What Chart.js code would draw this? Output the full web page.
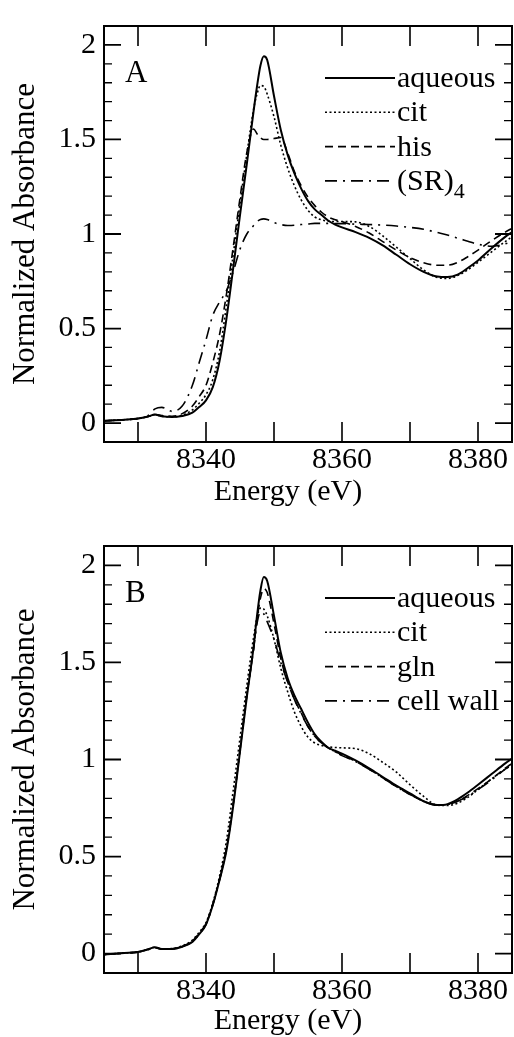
<!DOCTYPE html>
<html>
<head>
<meta charset="utf-8">
<script src="https://cdn.jsdelivr.net/npm/chart.js@4.4.1/dist/chart.umd.min.js"></script>
<style>
  html, body { margin: 0; padding: 0; background: #fff; overflow: hidden; }
  .panel { position: absolute; left: 0; width: 514px; }
  #wrapA { top: 0; height: 520px; }
  #wrapB { top: 520px; height: 517px; }
</style>
</head>
<body>
<div class="panel" id="wrapA"><canvas id="chartA"></canvas></div>
<div class="panel" id="wrapB"><canvas id="chartB"></canvas></div>
<script>
// energy grid (eV) shared by all curves
const energy = [8325, 8328, 8330, 8331.5, 8332.5, 8333.5, 8335, 8336.5, 8338, 8339,
    8340, 8341, 8342, 8343, 8344, 8345, 8346, 8347, 8347.5, 8348,
    8348.5, 8349, 8350, 8351, 8352, 8353, 8354, 8355, 8356, 8357,
    8358, 8359, 8360, 8362, 8364, 8366, 8368, 8370, 8372, 8374,
    8375.5, 8377, 8378.5, 8380, 8382, 8384, 8385];

// tick positions and labels
const xTicks = [8330, 8340, 8350, 8360, 8370, 8380];
const xTickLabels = ['', '8340', '', '8360', '', '8380'];
const yTicks = [0, 0.1, 0.2, 0.3, 0.4, 0.5, 0.6, 0.7, 0.8, 0.9, 1,
    1.1, 1.2, 1.3, 1.4, 1.5, 1.6, 1.7, 1.8, 1.9, 2];
const yMajor = [0, 0.5, 1, 1.5, 2];
const yTickLabels = ['0', '0.5', '1', '1.5', '2'];

// panel A
const namesA = ['aqueous', 'cit', 'his', '(SR)4'];
const aqueousA = [0.012, 0.018, 0.024, 0.035, 0.045, 0.036, 0.032, 0.038, 0.055, 0.085,
    0.12, 0.19, 0.33, 0.55, 0.82, 1.10, 1.37, 1.65, 1.78, 1.89,
    1.94, 1.92, 1.73, 1.55, 1.42, 1.32, 1.24, 1.175, 1.13, 1.10,
    1.07, 1.05, 1.035, 1.01, 0.98, 0.94, 0.89, 0.84, 0.80, 0.775,
    0.772, 0.785, 0.82, 0.86, 0.925, 0.985, 1.01];
const citA = [0.012, 0.018, 0.024, 0.035, 0.045, 0.036, 0.033, 0.042, 0.07, 0.105,
    0.15, 0.23, 0.38, 0.62, 0.89, 1.16, 1.42, 1.66, 1.74, 1.785,
    1.78, 1.74, 1.62, 1.47, 1.35, 1.255, 1.18, 1.125, 1.09, 1.075,
    1.068, 1.066, 1.066, 1.064, 1.04, 0.99, 0.93, 0.87, 0.81, 0.77,
    0.765, 0.78, 0.81, 0.85, 0.905, 0.96, 0.985];
const hisA = [0.012, 0.018, 0.024, 0.035, 0.045, 0.04, 0.036, 0.05, 0.09, 0.14,
    0.20, 0.32, 0.47, 0.68, 0.93, 1.19, 1.43, 1.555, 1.53, 1.51,
    1.50, 1.50, 1.505, 1.51, 1.43, 1.33, 1.255, 1.195, 1.15, 1.115,
    1.09, 1.075, 1.065, 1.04, 1.005, 0.96, 0.915, 0.875, 0.848, 0.835,
    0.835, 0.85, 0.88, 0.915, 0.965, 1.01, 1.03];
const sr4A = [0.012, 0.018, 0.024, 0.04, 0.075, 0.083, 0.062, 0.09, 0.2, 0.32,
    0.44, 0.57, 0.64, 0.70, 0.80, 0.92, 1.00, 1.045, 1.065, 1.077,
    1.08, 1.077, 1.06, 1.05, 1.045, 1.046, 1.05, 1.053, 1.056, 1.056,
    1.056, 1.055, 1.055, 1.052, 1.05, 1.047, 1.042, 1.035, 1.025, 1.008,
    0.995, 0.978, 0.962, 0.946, 0.935, 0.948, 0.96];

// panel B
const namesB = ['aqueous', 'cit', 'gln', 'cell wall'];
const aqueousB = [-0.005, 0.003, 0.008, 0.022, 0.033, 0.024, 0.024, 0.035, 0.06, 0.1,
    0.15, 0.25, 0.38, 0.53, 0.76, 1.04, 1.32, 1.58, 1.74, 1.87,
    1.94, 1.92, 1.74, 1.55, 1.42, 1.33, 1.26, 1.19, 1.13, 1.09,
    1.06, 1.045, 1.03, 0.995, 0.955, 0.91, 0.865, 0.825, 0.785, 0.765,
    0.77, 0.795, 0.83, 0.87, 0.925, 0.98, 1.005];
const citB = [-0.005, 0.003, 0.008, 0.022, 0.033, 0.025, 0.026, 0.04, 0.07, 0.11,
    0.16, 0.26, 0.40, 0.58, 0.84, 1.11, 1.38, 1.63, 1.73, 1.78,
    1.775, 1.74, 1.62, 1.47, 1.35, 1.245, 1.17, 1.115, 1.085, 1.072,
    1.065, 1.062, 1.06, 1.056, 1.03, 0.985, 0.935, 0.87, 0.81, 0.765,
    0.763, 0.775, 0.805, 0.845, 0.9, 0.95, 0.97];
const glnB = [-0.005, 0.003, 0.008, 0.022, 0.03, 0.022, 0.024, 0.037, 0.065, 0.105,
    0.155, 0.255, 0.385, 0.54, 0.77, 1.05, 1.33, 1.57, 1.72, 1.83,
    1.88, 1.86, 1.70, 1.52, 1.40, 1.31, 1.24, 1.17, 1.12, 1.085,
    1.06, 1.04, 1.025, 0.99, 0.95, 0.905, 0.86, 0.82, 0.785, 0.765,
    0.768, 0.785, 0.815, 0.85, 0.9, 0.955, 0.98];
const cellWallB = [-0.005, 0.003, 0.009, 0.02, 0.03, 0.024, 0.025, 0.036, 0.062, 0.1,
    0.15, 0.25, 0.38, 0.54, 0.77, 1.05, 1.33, 1.57, 1.70, 1.76,
    1.75, 1.71, 1.62, 1.50, 1.40, 1.31, 1.235, 1.17, 1.12, 1.085,
    1.06, 1.04, 1.02, 0.99, 0.95, 0.905, 0.86, 0.82, 0.785, 0.765,
    0.768, 0.785, 0.81, 0.845, 0.895, 0.95, 0.975];

const FONT = "'Liberation Serif', 'Times New Roman', serif";
Chart.defaults.font.family = FONT;
Chart.defaults.color = '#000';

// line styles: solid, dotted, dashed, dash-dot
const styles = [
    { borderWidth: 2, borderDash: [] },
    { borderWidth: 1.6, borderDash: [2, 2.5] },
    { borderWidth: 1.6, borderDash: [8, 5] },
    { borderWidth: 1.6, borderDash: [12, 6, 2, 6] }
];

function isMajorY(v) {
    return yMajor.some(m => Math.abs(m - v) < 1e-6);
}

// frame, inward ticks, legend, panel letter and x title
const framePlugin = {
    id: 'frame',
    afterDraw(chart, args, opts) {
        const { ctx, chartArea: a, scales: { x, y } } = chart;
        ctx.save();
        ctx.strokeStyle = '#000';
        ctx.fillStyle = '#000';
        ctx.setLineDash([]);

        // x ticks, top and bottom
        ctx.lineWidth = 1.6;
        x.ticks.forEach(t => {
            const px = x.getPixelForValue(t.value);
            ctx.beginPath();
            ctx.moveTo(px, a.bottom);
            ctx.lineTo(px, a.bottom - 20);
            ctx.moveTo(px, a.top);
            ctx.lineTo(px, a.top + 20);
            ctx.stroke();
        });

        // y ticks, left and right, longer at every 0.5
        y.ticks.forEach(t => {
            const py = y.getPixelForValue(t.value);
            const major = isMajorY(t.value);
            const len = major ? 17 : 8;
            ctx.lineWidth = major ? 1.8 : 1.3;
            ctx.beginPath();
            ctx.moveTo(a.left, py);
            ctx.lineTo(a.left + len, py);
            ctx.moveTo(a.right, py);
            ctx.lineTo(a.right - len, py);
            ctx.stroke();
        });

        ctx.lineWidth = 2;
        ctx.strokeRect(a.left, a.top, a.right - a.left, a.bottom - a.top);

        // panel letter
        ctx.font = '31px ' + FONT;
        ctx.textAlign = 'left';
        ctx.textBaseline = 'alphabetic';
        ctx.fillText(opts.letter, 125, a.top + 56);

        // legend
        chart.data.datasets.forEach((ds, i) => {
            const ly = a.top + 52 + i * 34.3;
            ctx.lineWidth = ds.borderWidth;
            ctx.setLineDash(ds.borderDash);
            ctx.beginPath();
            ctx.moveTo(325, ly);
            ctx.lineTo(395, ly);
            ctx.stroke();
            ctx.setLineDash([]);
            ctx.font = '30px ' + FONT;
            const m = ds.label.match(/^(\(.*\))(\d)$/);
            if (m) {
                ctx.fillText(m[1], 397, ly + 9);
                const w = ctx.measureText(m[1]).width;
                ctx.font = '22px ' + FONT;
                ctx.fillText(m[2], 397 + w, ly + 17);
            } else {
                ctx.fillText(ds.label, 397, ly + 9);
            }
        });

        // x axis title
        ctx.font = '30px ' + FONT;
        ctx.textAlign = 'center';
        ctx.fillText(opts.xTitle, 288, opts.xTitleY);
        ctx.restore();
    }
};

function makeChart(id, letter, names, series, padTop, xHeight, xTitleY) {
    const datasets = series.map((vals, i) => ({
        label: names[i],
        data: vals.map((v, j) => ({ x: energy[j], y: v })),
        borderColor: '#000',
        borderWidth: styles[i].borderWidth,
        borderDash: styles[i].borderDash,
        pointRadius: 0,
        fill: false,
        cubicInterpolationMode: 'monotone'
    }));

    return new Chart(document.getElementById(id), {
        type: 'line',
        data: { datasets },
        options: {
            responsive: true,
            maintainAspectRatio: false,
            animation: false,
            layout: { padding: { top: padTop, right: 2, left: 0, bottom: 0 } },
            plugins: {
                legend: { display: false },
                tooltip: { enabled: false },
                frame: { letter: letter, xTitle: 'Energy (eV)', xTitleY: xTitleY }
            },
            scales: {
                x: {
                    type: 'linear',
                    min: 8325,
                    max: 8385,
                    grid: { display: false, drawTicks: false },
                    border: { display: false },
                    afterBuildTicks: s => { s.ticks = xTicks.map(v => ({ value: v })); },
                    afterFit: s => { s.height = xHeight; },
                    ticks: {
                        autoSkip: false,
                        maxRotation: 0,
                        padding: 0,
                        font: { size: 30 },
                        callback: (v, i) => xTickLabels[i]
                    }
                },
                y: {
                    min: -0.1,
                    max: 2.1,
                    grid: { display: false, drawTicks: false },
                    border: { display: false },
                    afterBuildTicks: s => { s.ticks = yTicks.map(v => ({ value: v })); },
                    afterFit: s => { s.width = 104; },
                    title: {
                        display: true,
                        text: 'Normalized Absorbance',
                        font: { size: 31 },
                        padding: { top: 7, bottom: 0 }
                    },
                    ticks: {
                        autoSkip: false,
                        padding: 8,
                        font: { size: 30 },
                        callback: v => {
                            const k = yMajor.findIndex(m => Math.abs(m - v) < 1e-6);
                            return k < 0 ? '' : yTickLabels[k];
                        }
                    }
                }
            }
        },
        plugins: [framePlugin]
    });
}

const chartA = makeChart('chartA', 'A', namesA, [aqueousA, citA, hisA, sr4A], 13, 78, 500);
const chartB = makeChart('chartB', 'B', namesB, [aqueousB, citB, glnB, cellWallB], 25, 64, 509);
</script>
</body>
</html>
